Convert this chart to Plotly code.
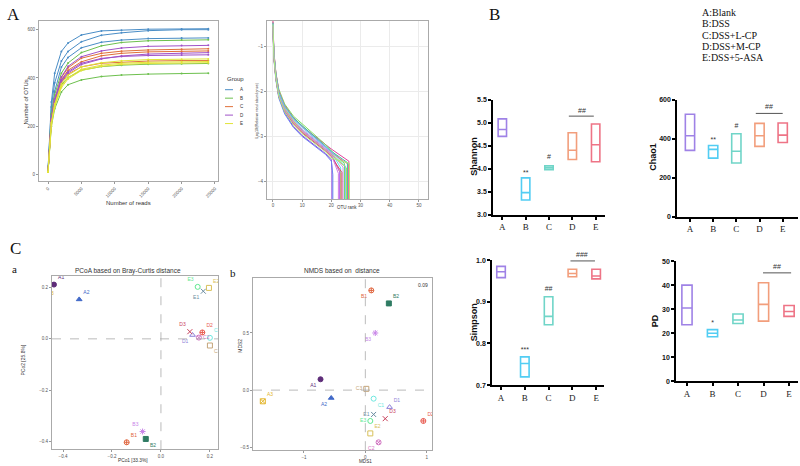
import plotly.graph_objects as go

W, H = 800, 466

# ---------------- Panel A: rarefaction ----------------
READS = [0, 500, 1000, 2000, 3000, 5000, 8000, 11000, 15000, 20000, 24000]
RARE_GROUPS = ["A", "A", "A", "B", "B", "B", "C", "C", "C", "D", "D", "D", "E", "E", "E"]
RARE_OTUS = [
    [20, 300, 420, 510, 545, 578, 595, 598, 602, 603, 604],
    [20, 280, 380, 470, 510, 550, 577, 587, 596, 600, 600],
    [15, 250, 345, 445, 485, 525, 548, 557, 563, 566, 566],
    [15, 250, 330, 420, 462, 505, 533, 547, 554, 557, 558],
    [10, 220, 292, 372, 402, 432, 447, 453, 457, 459, 460],
    [10, 200, 272, 342, 372, 392, 406, 412, 416, 418, 420],
    [10, 232, 312, 402, 442, 482, 502, 511, 516, 519, 521],
    [10, 230, 305, 392, 432, 467, 492, 502, 508, 511, 512],
    [10, 226, 300, 382, 416, 446, 461, 466, 470, 472, 472],
    [10, 232, 312, 404, 448, 488, 512, 524, 531, 534, 535],
    [10, 226, 305, 390, 426, 461, 481, 489, 493, 495, 496],
    [10, 224, 302, 386, 421, 456, 479, 491, 499, 503, 505],
    [10, 216, 292, 376, 411, 446, 463, 471, 476, 478, 479],
    [10, 210, 286, 366, 401, 436, 453, 461, 465, 467, 468],
    [10, 205, 280, 360, 396, 431, 448, 456, 460, 462, 463],
]
GROUP_COLORS = {"A": "#4A8DC6", "B": "#6DC04E", "C": "#E0703A", "D": "#A052C8", "E": "#E2E438"}
LEGEND_GROUPS = ["A", "B", "C", "D", "E"]

# ---------------- Panel A: rank abundance ----------------
RANK = [0, 0.3, 1, 2, 4, 7, 10, 14, 18, 20]
RA_Y = [
    [-0.45, -1.10, -1.62, -2.00, -2.30, -2.58, -2.78, -2.98, -3.18, -3.28],
    [-0.50, -1.20, -1.72, -2.12, -2.47, -2.78, -2.98, -3.18, -3.38, -3.52],
    [-0.55, -1.15, -1.65, -2.05, -2.35, -2.62, -2.80, -3.02, -3.22, -3.35],
    [-0.52, -1.18, -1.60, -1.95, -2.28, -2.55, -2.72, -2.95, -3.18, -3.32],
    [-0.48, -1.25, -1.72, -2.12, -2.42, -2.70, -2.90, -3.10, -3.30, -3.42],
    [-0.58, -1.22, -1.68, -2.08, -2.40, -2.68, -2.86, -3.06, -3.26, -3.38],
    [-0.42, -1.12, -1.58, -1.98, -2.32, -2.60, -2.78, -3.00, -3.22, -3.36],
    [-0.60, -1.28, -1.75, -2.15, -2.50, -2.80, -3.00, -3.20, -3.40, -3.55],
    [-0.50, -1.16, -1.63, -2.02, -2.36, -2.64, -2.84, -3.04, -3.24, -3.36],
    [-0.53, -1.20, -1.66, -2.06, -2.38, -2.66, -2.88, -3.08, -3.28, -3.40],
    [-0.47, -1.14, -1.61, -2.01, -2.33, -2.59, -2.76, -2.98, -3.20, -3.33],
    [-0.56, -1.24, -1.70, -2.10, -2.44, -2.72, -2.92, -3.12, -3.32, -3.45],
    [-0.49, -1.19, -1.67, -2.04, -2.34, -2.61, -2.79, -3.01, -3.21, -3.34],
    [-0.54, -1.21, -1.69, -2.09, -2.41, -2.69, -2.89, -3.09, -3.29, -3.41],
    [-0.51, -1.23, -1.71, -2.11, -2.45, -2.74, -2.94, -3.14, -3.34, -3.48],
]
RA_END_X = [26.0, 20.2, 23.2, 24.5, 23.0, 22.8, 25.8, 20.5, 24.0, 25.2, 25.5, 23.6, 24.8, 22.4, 26.2]
RA_END_Y = [-3.55, -3.75, -3.70, -3.60, -3.80, -3.78, -3.62, -3.85, -3.68, -3.70, -3.58, -3.80, -3.66, -3.82, -3.60]
RA_COLORS = ["#E0409C", "#8E44E0", "#62E0E0", "#7EDC5C", "#F0903E", "#B46EF0", "#F06498",
             "#6C86F0", "#C494F0", "#BEE044", "#3EC2A0", "#E04262", "#72C4F2", "#D27CE6", "#A8F07A"]
RA_XTICKS = [0, 10, 20, 30, 40, 50]
RA_YTICKS = [-1, -2, -3, -4]

# ---------------- Panel B: alpha diversity ----------------
CATS = ["A", "B", "C", "D", "E"]
BOX_COLORS = ["#9F82E6", "#52CDF3", "#70D5C8", "#F29E7C", "#EE7486"]
SHANNON_MIN = [4.70, 3.32, 3.98, 4.20, 4.15]
SHANNON_MED = [4.85, 3.48, 4.02, 4.40, 4.52]
SHANNON_MAX = [5.08, 3.80, 4.06, 4.78, 4.97]
CHAO_MIN = [340, 300, 275, 360, 380]
CHAO_MED = [415, 345, 335, 415, 418]
CHAO_MAX = [525, 365, 425, 478, 480]
SIMPSON_MIN = [0.958, 0.720, 0.845, 0.960, 0.955]
SIMPSON_MED = [0.972, 0.752, 0.865, 0.968, 0.962]
SIMPSON_MAX = [0.985, 0.768, 0.912, 0.978, 0.978]
PD_MIN = [23.5, 18.5, 24.0, 25.0, 27.0]
PD_MED = [30.5, 20.0, 25.5, 32.0, 29.0]
PD_MAX = [40.0, 21.5, 28.0, 41.0, 31.5]
GROUP_NAMES = ["A:Blank", "B:DSS", "C:DSS+L-CP", "D:DSS+M-CP", "E:DSS+5-ASA"]

# ---------------- Panel C: ordinations ----------------
SAMPLES = ["A1", "A2", "A3", "B1", "B2", "B3", "C1", "C2", "C3", "D1", "D2", "D3", "E1", "E2", "E3"]
SAMPLE_COLORS = ["#5E2D79", "#4169C8", "#E3B52A", "#E0643C", "#2F7B63", "#C884E8", "#6EE8E0", "#D070C0",
                 "#C4A57A", "#8C7FD8", "#E85A50", "#C8405A", "#6A8CA0", "#D8C05A", "#5EE890"]
SAMPLE_SYMBOLS = ["circle", "triangle-up", "square-x-open", "circle-cross-open", "square", "asterisk-open",
                  "circle-open", "circle-x-open", "square-open", "triangle-up-open", "circle-cross-open",
                  "x-thin-open", "x-thin-open", "square-open", "circle-open"]
PCOA_X = [-0.437, -0.334, -0.480, -0.140, -0.062, -0.075, 0.200, 0.155, 0.200, 0.129, 0.169, 0.118, 0.173, 0.196, 0.150]
PCOA_Y = [0.212, 0.154, 0.151, -0.404, -0.391, -0.362, 0.004, 0.005, -0.026, 0.015, 0.025, 0.028, 0.186, 0.199, 0.203]
PCOA_POS = ["top right", "top right", "top right", "top right", "bottom right", "top left", "top right",
            "middle right", "bottom right", "bottom left", "top right", "top left", "bottom left", "top right", "top left"]
NMDS_X = [-0.730, -0.556, -1.670, 0.097, 0.383, 0.162, 0.135, 0.216, 0.016, 0.395, 0.945, 0.324, 0.135, 0.081, 0.081]
NMDS_Y = [0.095, -0.069, -0.098, 0.873, 0.759, 0.500, -0.075, -0.457, 0.011, -0.149, -0.270, -0.250, -0.213, -0.379, -0.270]
NMDS_POS = ["bottom left", "bottom left", "top right", "bottom left", "top right", "bottom left", "bottom right",
            "bottom left", "middle left", "top right", "top right", "top right", "middle left", "top right", "middle left"]


def dx(a, b):
    return [a / W, b / W]


def dy(top, bottom):
    return [1 - bottom / H, 1 - top / H]


fig = go.Figure()

# rarefaction curves
for g, ys in zip(RARE_GROUPS, RARE_OTUS):
    fig.add_trace(go.Scatter(x=READS, y=ys, mode="lines+markers", line=dict(color=GROUP_COLORS[g], width=1),
                             marker=dict(size=2, color=GROUP_COLORS[g]), xaxis="x", yaxis="y", showlegend=False))

# rank abundance
for ys, ex, ey, c in zip(RA_Y, RA_END_X, RA_END_Y, RA_COLORS):
    fig.add_trace(go.Scatter(x=RANK + [ex, ex], y=ys + [ey, -6], mode="lines", line=dict(color=c, width=1),
                             xaxis="x2", yaxis="y2", showlegend=False))

# alpha diversity boxes
panels = [
    (3, SHANNON_MIN, SHANNON_MED, SHANNON_MAX, 0.36),
    (4, CHAO_MIN, CHAO_MED, CHAO_MAX, 0.40),
    (5, SIMPSON_MIN, SIMPSON_MED, SIMPSON_MAX, 0.36),
    (6, PD_MIN, PD_MED, PD_MAX, 0.40),
]
for n, mn, md, mx, w in panels:
    for i, (a, m, b, c) in enumerate(zip(mn, md, mx, BOX_COLORS)):
        fig.add_trace(go.Box(x=[i], q1=[a], median=[m], q3=[b], lowerfence=[a], upperfence=[b],
                             fillcolor="rgba(255,255,255,0)", line=dict(color=c, width=1.6), width=w,
                             whiskerwidth=0, boxpoints=False, hoverinfo="skip",
                             xaxis=f"x{n}", yaxis=f"y{n}", showlegend=False))

# significance marks (stars / hashes over single groups, bracket over D-E)
SIG = [
    (3, [1, 2], [3.90, 4.24], ["**", "#"], [2.85, 3.92], 5.14),
    (4, [1, 2], [393, 464], ["**", "#"], [2.84, 4.0], 529),
    (5, [1, 2], [0.783, 0.931], ["***", "##"], [2.92, 3.95], 0.998),
    (6, [1], [24.2], ["*"], [2.98, 4.08], 45.1),
]
for n, sx, sy, st, bx, by in SIG:
    fig.add_trace(go.Scatter(x=sx, y=sy, mode="text", text=st,
                             textfont=dict(size=7, color="#333333", family="Liberation Sans"),
                             cliponaxis=False, xaxis=f"x{n}", yaxis=f"y{n}", showlegend=False, hoverinfo="skip"))
    fig.add_trace(go.Scatter(x=bx, y=[by, by], mode="lines", line=dict(color="#555555", width=1),
                             cliponaxis=False, xaxis=f"x{n}", yaxis=f"y{n}", showlegend=False, hoverinfo="skip"))

# ordinations
for n, xs, ys, pos in [(7, PCOA_X, PCOA_Y, PCOA_POS), (8, NMDS_X, NMDS_Y, NMDS_POS)]:
    for s, x, y, c, sym, p in zip(SAMPLES, xs, ys, SAMPLE_COLORS, SAMPLE_SYMBOLS, pos):
        fig.add_trace(go.Scatter(x=[x], y=[y], mode="markers+text", text=[s], textposition=p,
                                 textfont=dict(size=5, color=c, family="Liberation Sans"),
                                 marker=dict(size=5, color=c, symbol=sym, line=dict(color=c, width=1)),
                                 xaxis=f"x{n}", yaxis=f"y{n}", showlegend=False))

GG = dict(showline=True, mirror=True, linecolor="#AAAAAA", linewidth=1, ticks="outside", ticklen=2,
          tickcolor="#999999", tickfont=dict(size=4.5, color="#555555", family="Liberation Sans"),
          zeroline=False, showgrid=False)
GP = dict(showline=True, mirror=False, linecolor="black", linewidth=1.5, ticks="outside", ticklen=3,
          tickwidth=1.5, tickcolor="black", zeroline=False, showgrid=False)
XCAT = dict(tickmode="array", tickvals=list(range(5)), ticktext=CATS,
            tickfont=dict(size=9, color="#222222", family="Liberation Serif"))
YB = dict(tickfont=dict(size=7, color="#111111", family="Liberation Sans", weight="bold"))

layout = dict(
    width=W, height=H, margin=dict(l=0, r=0, t=0, b=0), paper_bgcolor="white", plot_bgcolor="white",
    showlegend=False, font=dict(family="Liberation Sans"),
    xaxis=dict(GG, domain=dx(39, 218), anchor="y", range=[-1350, 25450], tickvals=[0, 5000, 10000, 15000, 20000, 25000],
               tickformat="d", tickangle=-45),
    yaxis=dict(GG, domain=dy(17, 180), anchor="x", range=[-28, 637], tickvals=[0, 200, 400, 600]),
    xaxis2=dict(GG, domain=dx(267, 428), anchor="y2", range=[-2.05, 53.1], tickvals=RA_XTICKS,
                showgrid=True, gridcolor="#EBEBEB", gridwidth=0.6),
    yaxis2=dict(GG, domain=dy(17, 198), anchor="x2", range=[-4.39, -0.43], tickvals=RA_YTICKS,
                showgrid=True, gridcolor="#EBEBEB", gridwidth=0.6),
    xaxis3=dict(GP, **XCAT, domain=dx(493, 605), anchor="y3", range=[-0.4, 4.4]),
    yaxis3=dict(GP, **YB, domain=dy(97, 214), anchor="x3", range=[3.0, 5.5], tickvals=[3.0, 3.5, 4.0, 4.5, 5.0, 5.5],
                tickformat=".1f"),
    xaxis4=dict(GP, **XCAT, domain=dx(677, 798), anchor="y4", range=[-0.56, 4.66]),
    yaxis4=dict(GP, **YB, domain=dy(97, 216), anchor="x4", range=[0, 600], tickvals=[0, 200, 400, 600]),
    xaxis5=dict(GP, **XCAT, domain=dx(492, 604), anchor="y5", range=[-0.38, 4.33]),
    yaxis5=dict(GP, **YB, domain=dy(260, 387), anchor="x5", range=[0.7, 1.0], tickvals=[0.7, 0.8, 0.9, 1.0],
                tickformat=".1f"),
    xaxis6=dict(GP, **XCAT, domain=dx(676, 798), anchor="y6", range=[-0.43, 4.35]),
    yaxis6=dict(GP, **YB, domain=dy(261, 383), anchor="x6", range=[0, 50], tickvals=[0, 10, 20, 30, 40, 50]),
    xaxis7=dict(GG, domain=dx(52, 218), anchor="y7", range=[-0.445, 0.233], tickvals=[-0.4, -0.2, 0.0, 0.2],
                tickformat=".1f"),
    yaxis7=dict(GG, domain=dy(276, 452), anchor="x7", range=[-0.431, 0.246], tickvals=[-0.4, -0.2, 0.0, 0.2],
                tickformat=".1f"),
    xaxis8=dict(GG, domain=dx(253, 432), anchor="y8", range=[-1.83, 1.086], tickvals=[-1, 0, 1]),
    yaxis8=dict(GG, domain=dy(278, 453), anchor="x8", range=[-0.526, 0.983], tickvals=[-0.5, 0.0, 0.5],
                tickformat=".1f"),
)
fig.update_layout(**layout)

# dashed zero lines on ordinations
for n in (7, 8):
    fig.add_shape(type="line", xref=f"x{n} domain", yref=f"y{n}", x0=0, x1=1, y0=0, y1=0,
                  line=dict(color="#AAAAAA", width=0.8, dash="dash"))
    fig.add_shape(type="line", xref=f"x{n}", yref=f"y{n} domain", x0=0, x1=0, y0=0, y1=1,
                  line=dict(color="#AAAAAA", width=0.8, dash="dash"))


def ann(text, x, y, size=6, color="#333333", family="Liberation Sans", angle=0, xanchor="center", yanchor="middle",
        bold=False):
    fig.add_annotation(text=f"<b>{text}</b>" if bold else text, x=x / W, y=1 - y / H, xref="paper", yref="paper",
                       showarrow=False, textangle=angle, xanchor=xanchor, yanchor=yanchor,
                       font=dict(size=size, color=color, family=family))


# bracket labels over D-E
ann("##", 582, 108, size=7)
ann("##", 769, 104, size=7)
ann("###", 582, 254, size=7)
ann("##", 777, 267, size=7)

# panel letters
ann("A", 13, 11, size=17, color="#111111", family="Liberation Serif")
ann("B", 494, 11, size=17, color="#111111", family="Liberation Serif")
ann("C", 15, 248, size=17, color="#111111", family="Liberation Serif")
ann("a", 14, 269, size=11, color="#111111", family="Liberation Serif")
ann("b", 233, 273, size=11, color="#111111", family="Liberation Serif")

# panel A axis titles and legend
ann("Number of reads", 128, 202, size=6)
ann("Number of OTUs", 26, 100, size=6, angle=-90)
ann("OTU rank", 347, 207, size=4.5)
ann("Log10(Relative read abundance)", 257, 108, size=3.8, angle=-90)
ann("Group", 225, 76, size=6, xanchor="left")
for i, g in enumerate(LEGEND_GROUPS):
    yy = 87 + i * 8.6
    fig.add_shape(type="line", x0=225 / W, x1=233 / W, y0=1 - yy / H, y1=1 - yy / H, xref="paper", yref="paper",
                  line=dict(color=GROUP_COLORS[g], width=1))
    ann(g, 238, yy, size=4.5, xanchor="left")

# group names
for i, name in enumerate(GROUP_NAMES):
    ann(name, 700, 9 + i * 11.3, size=10, color="#111111", family="Liberation Serif", xanchor="left")

# panel B y titles
ann("Shannon", 474, 155, size=9, color="#111111", angle=-90, bold=True)
ann("Chao1", 653, 155, size=9, color="#111111", angle=-90, bold=True)
ann("Simpson", 474, 323, size=9, color="#111111", angle=-90, bold=True)
ann("PD", 655, 322, size=9, color="#111111", angle=-90, bold=True)

# ordination titles
ann("PCoA based on Bray-Curtis distance", 128, 271, size=6.5)
ann("PCo1 [33.3%]", 133, 463, size=4.8)
ann("PCo2 [25.8%]", 23, 362, size=5, angle=-90)
ann("NMDS based on  distance", 342, 271, size=6.5)
ann("MDS1", 365, 464, size=4.6)
ann("MDS2", 240, 347, size=5, angle=-90)
ann("0.09", 423, 285, size=5)

fig.write_html("out.html", config={"displayModeBar": False},
               post_script="document.body.style.margin='0';document.body.style.overflow='hidden';")
